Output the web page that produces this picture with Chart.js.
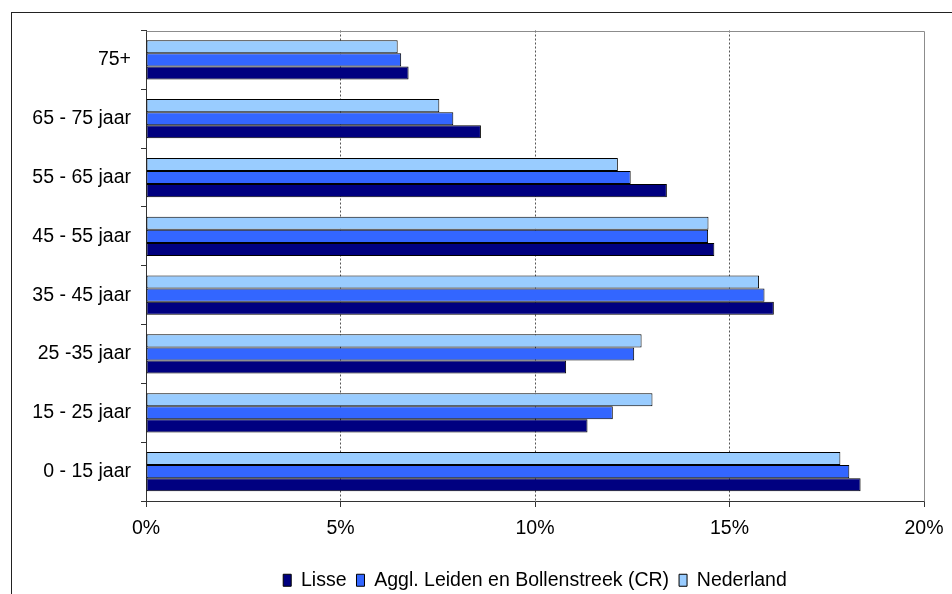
<!DOCTYPE html>
<html>
<head>
<meta charset="utf-8">
<script src="https://cdn.jsdelivr.net/npm/chart.js@4.4.1/dist/chart.umd.min.js"></script>
<style>
  html, body { margin: 0; padding: 0; background: #fff; overflow: hidden; width: 952px; height: 594px; }
  #frame { position: absolute; left: 11px; top: 12px; width: 1100px; height: 700px;
           border-left: 1px solid #222; border-top: 1px solid #222; }
  #frame canvas { position: absolute; left: 0; top: 0; }
</style>
</head>
<body>
<div id="frame"><canvas id="chart" width="1046" height="600"></canvas></div>
<script>
// Age groups, listed top to bottom
const categories = ["75+", "65 - 75 jaar", "55 - 65 jaar", "45 - 55 jaar",
                    "35 - 45 jaar", "25 -35 jaar", "15 - 25 jaar", "0 - 15 jaar"];

// Share of the population per age group (%)
const lisse     = [6.75, 8.61, 13.39, 14.61, 16.14, 10.80, 11.35, 18.37];
const agglLB    = [6.56, 7.90, 12.46, 14.45, 15.90, 12.55, 12.00, 18.08];
const nederland = [6.47, 7.54, 12.13, 14.46, 15.76, 12.74, 13.02, 17.85];

const seriesNames = ["Lisse", "Aggl. Leiden en Bollenstreek (CR)", "Nederland"];
const xTicks = [0, 5, 10, 15, 20];

Chart.defaults.font.family = "'Liberation Sans', Arial, sans-serif";
Chart.defaults.font.size = 19.5;
Chart.defaults.color = "#000";

// Grey frame on the top and right of the plot area
const plotFrame = {
  id: "plotFrame",
  afterDraw(chart) {
    const { ctx, chartArea: a } = chart;
    ctx.save();
    ctx.strokeStyle = "#8c8c8c";
    ctx.lineWidth = 1;
    ctx.beginPath();
    ctx.moveTo(Math.round(a.left) + 0.5, Math.round(a.top) + 0.5);
    ctx.lineTo(Math.round(a.right) + 0.5, Math.round(a.top) + 0.5);
    ctx.lineTo(Math.round(a.right) + 0.5, Math.round(a.bottom) + 0.5);
    ctx.stroke();
    ctx.restore();
  }
};

const barStyle = { borderColor: "#000", borderWidth: 1, borderSkipped: false };

new Chart(document.getElementById("chart"), {
  type: "bar",
  data: {
    labels: categories,
    datasets: [
      { label: seriesNames[0], data: lisse,     backgroundColor: "#000080", order: 3, ...barStyle },
      { label: seriesNames[1], data: agglLB,    backgroundColor: "#3366FF", order: 2, ...barStyle },
      { label: seriesNames[2], data: nederland, backgroundColor: "#99CCFF", order: 1, ...barStyle }
    ]
  },
  options: {
    indexAxis: "y",
    responsive: false,
    animation: false,
    devicePixelRatio: 1,
    categoryPercentage: 0.667,
    barPercentage: 1.0,
    layout: { padding: { left: 0, right: 134, top: 17.5, bottom: 13 } },
    plugins: {
      tooltip: { enabled: false },
      legend: {
        position: "bottom",
        fullSize: false,
        reverse: true,
        labels: {
          boxWidth: 8, boxHeight: 12, padding: 10,
          font: { size: 19.5 }, color: "#000"
        }
      }
    },
    scales: {
      x: {
        min: 0, max: 20,
        afterBuildTicks: (s) => { s.ticks = xTicks.map(v => ({ value: v })); },
        afterFit: (s) => { s.height = 59.5; },
        ticks: { callback: (v) => v + "%", padding: 10, font: { size: 19.5 }, color: "#000", maxRotation: 0 },
        grid: {
          color: (c) => (c.tick && (c.tick.value === 0 || c.tick.value === 20)) ? "rgba(0,0,0,0)" : "#555",
          tickColor: "#333", tickLength: 6, drawTicks: true
        },
        border: { display: true, color: "#333", width: 1, dash: [2, 2] }
      },
      y: {
        afterFit: (s) => { s.width = 134; s.paddingTop = 0; s.paddingBottom = 0; },
        ticks: { padding: 10, font: { size: 19.5 }, color: "#000" },
        grid: { drawOnChartArea: false, drawTicks: true, tickLength: 5, tickColor: "#333", offset: true },
        border: { display: true, color: "#333", width: 1 }
      }
    }
  },
  plugins: [plotFrame]
});
</script>
</body>
</html>
